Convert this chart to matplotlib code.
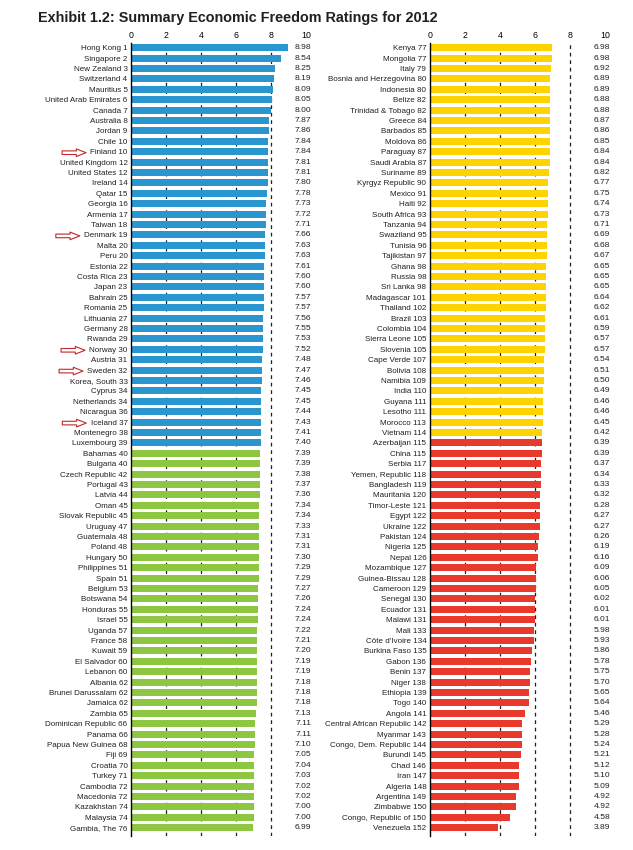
import matplotlib
matplotlib.use('Agg')
import matplotlib.pyplot as plt
from matplotlib.patches import FancyArrowPatch

plt.rcParams['font.family'] = ['Liberation Sans', 'DejaVu Sans']

# left column (ranks 1-76)
names_left = ['Hong Kong', 'Singapore', 'New Zealand', 'Switzerland', 'Mauritius', 'United Arab Emirates',
              'Canada', 'Australia', 'Jordan', 'Chile', 'Finland', 'United Kingdom', 'United States',
              'Ireland', 'Qatar', 'Georgia', 'Armenia', 'Taiwan', 'Denmark', 'Malta', 'Peru', 'Estonia',
              'Costa Rica', 'Japan', 'Bahrain', 'Romania', 'Lithuania', 'Germany', 'Rwanda', 'Norway',
              'Austria', 'Sweden', 'Korea, South', 'Cyprus', 'Netherlands', 'Nicaragua', 'Iceland',
              'Montenegro', 'Luxembourg', 'Bahamas', 'Bulgaria', 'Czech Republic', 'Portugal', 'Latvia',
              'Oman', 'Slovak Republic', 'Uruguay', 'Guatemala', 'Poland', 'Hungary', 'Philippines',
              'Spain', 'Belgium', 'Botswana', 'Honduras', 'Israel', 'Uganda', 'France', 'Kuwait',
              'El Salvador', 'Lebanon', 'Albania', 'Brunei Darussalam', 'Jamaica', 'Zambia',
              'Dominican Republic', 'Panama', 'Papua New Guinea', 'Fiji', 'Croatia', 'Turkey',
              'Cambodia', 'Macedonia', 'Kazakhstan', 'Malaysia', 'Gambia, The']
ranks_left = [1, 2, 3, 4, 5, 6, 7, 8, 9, 10, 10, 12, 12, 14, 15, 16, 17, 18, 19, 20, 20, 22, 23, 23,
              25, 25, 27, 28, 29, 30, 31, 32, 33, 34, 34, 36, 37, 38, 39, 40, 40, 42, 43, 44, 45, 45,
              47, 48, 48, 50, 51, 51, 53, 54, 55, 55, 57, 58, 59, 60, 60, 62, 62, 62, 65, 66, 66, 68,
              69, 70, 71, 72, 72, 74, 74, 76]
scores_left = [8.98, 8.54, 8.25, 8.19, 8.09, 8.05, 8.00, 7.87, 7.86, 7.84, 7.84, 7.81, 7.81, 7.80,
               7.78, 7.73, 7.72, 7.71, 7.66, 7.63, 7.63, 7.61, 7.60, 7.60, 7.57, 7.57, 7.56, 7.55,
               7.53, 7.52, 7.48, 7.47, 7.46, 7.45, 7.45, 7.44, 7.43, 7.41, 7.40, 7.39, 7.39, 7.38,
               7.37, 7.36, 7.34, 7.34, 7.33, 7.31, 7.31, 7.30, 7.29, 7.29, 7.27, 7.26, 7.24, 7.24,
               7.22, 7.21, 7.20, 7.19, 7.19, 7.18, 7.18, 7.18, 7.13, 7.11, 7.11, 7.10, 7.05, 7.04,
               7.03, 7.02, 7.02, 7.00, 7.00, 6.99]

# right column (ranks 77-152)
names_right = ['Kenya', 'Mongolia', 'Italy', 'Bosnia and Herzegovina', 'Indonesia', 'Belize',
               'Trinidad & Tobago', 'Greece', 'Barbados', 'Moldova', 'Paraguay', 'Saudi Arabia',
               'Suriname', 'Kyrgyz Republic', 'Mexico', 'Haiti', 'South Africa', 'Tanzania',
               'Swaziland', 'Tunisia', 'Tajikistan', 'Ghana', 'Russia', 'Sri Lanka', 'Madagascar',
               'Thailand', 'Brazil', 'Colombia', 'Sierra Leone', 'Slovenia', 'Cape Verde', 'Bolivia',
               'Namibia', 'India', 'Guyana', 'Lesotho', 'Morocco', 'Vietnam', 'Azerbaijan', 'China',
               'Serbia', 'Yemen, Republic', 'Bangladesh', 'Mauritania', 'Timor-Leste', 'Egypt',
               'Ukraine', 'Pakistan', 'Nigeria', 'Nepal', 'Mozambique', 'Guinea-Bissau', 'Cameroon',
               'Senegal', 'Ecuador', 'Malawi', 'Mali', "Côte d'Ivoire", 'Burkina Faso', 'Gabon',
               'Benin', 'Niger', 'Ethiopia', 'Togo', 'Angola', 'Central African Republic', 'Myanmar',
               'Congo, Dem. Republic', 'Burundi', 'Chad', 'Iran', 'Algeria', 'Argentina', 'Zimbabwe',
               'Congo, Republic of', 'Venezuela']
ranks_right = [77, 77, 79, 80, 80, 82, 82, 84, 85, 86, 87, 87, 89, 90, 91, 92, 93, 94, 95, 96, 97,
               98, 98, 98, 101, 102, 103, 104, 105, 105, 107, 108, 109, 110, 111, 111, 113, 114, 115,
               115, 117, 118, 119, 120, 121, 122, 122, 124, 125, 126, 127, 128, 129, 130, 131, 131,
               133, 134, 135, 136, 137, 138, 139, 140, 141, 142, 143, 144, 145, 146, 147, 148, 149,
               150, 150, 152]
scores_right = [6.98, 6.98, 6.92, 6.89, 6.89, 6.88, 6.88, 6.87, 6.86, 6.85, 6.84, 6.84, 6.82, 6.77,
                6.75, 6.74, 6.73, 6.71, 6.69, 6.68, 6.67, 6.65, 6.65, 6.65, 6.64, 6.62, 6.61, 6.59,
                6.57, 6.57, 6.54, 6.51, 6.50, 6.49, 6.46, 6.46, 6.45, 6.42, 6.39, 6.39, 6.37, 6.34,
                6.33, 6.32, 6.28, 6.27, 6.27, 6.26, 6.19, 6.16, 6.09, 6.06, 6.05, 6.02, 6.01, 6.01,
                5.98, 5.93, 5.86, 5.78, 5.75, 5.70, 5.65, 5.64, 5.46, 5.29, 5.28, 5.24, 5.21, 5.12,
                5.10, 5.09, 4.92, 4.92, 4.58, 3.89]

# quartile groups: how many rows of each column fall in the first colour
quartile_split = [39, 38]
quartile_colors = [('#2A96CF', '#8DC641'), ('#FFD300', '#E8392C')]
arrowed = ['Finland', 'Denmark', 'Norway', 'Sweden', 'Iceland']

fig = plt.figure(figsize=(6.33, 8.5), dpi=100)
fig.text(0.06, 0.979, 'Exhibit 1.2: Summary Economic Freedom Ratings for 2012',
         fontsize=10.4, fontweight='bold', va='center', ha='left', color='#231F20')

panels = [(names_left, ranks_left, scores_left, 0.207),
          (names_right, ranks_right, scores_right, 0.679)]
axes = []
for k, (names, ranks, scores, x0) in enumerate(panels):
    ax = fig.add_axes([x0, 0.0165, 0.2765, 0.9335])
    n = len(names)
    y = list(range(n))
    cols = [quartile_colors[k][0] if i < quartile_split[k] else quartile_colors[k][1] for i in y]
    for xv in [2, 4, 6, 8]:
        ax.axvline(xv, color='#231F20', lw=0.9, ls=(0, (3, 3)), zorder=1)
    ax.barh(y, scores, height=0.68, color=cols, zorder=2)
    for i, s in enumerate(scores):
        ax.text(10.3, i, f'{s:.2f}', ha='right', va='center', fontsize=6.1, color='#231F20',
                clip_on=False)
    ax.set_xlim(0, 10)
    ax.set_ylim(n - 0.2, -0.5)
    ax.set_yticks(y)
    ax.set_yticklabels([f'{nm} {r}' for nm, r in zip(names, ranks)], fontsize=5.8, color='#231F20')
    ax.set_xticks([0, 2, 4, 6, 8, 10])
    ax.xaxis.tick_top()
    ax.tick_params(axis='both', length=0, pad=2.5)
    ax.tick_params(axis='x', labelsize=6.3, pad=1.5)
    for sp in ['top', 'right', 'bottom']:
        ax.spines[sp].set_visible(False)
    ax.spines['left'].set_linewidth(1.0)
    ax.spines['left'].set_zorder(3)
    axes.append(ax)

# hollow red arrows pointing at the Nordic countries
fig.canvas.draw()
renderer = fig.canvas.get_renderer()
inv = fig.transFigure.inverted()
for lab in axes[0].get_yticklabels():
    if lab.get_text().rsplit(' ', 1)[0] in arrowed:
        bb = lab.get_window_extent(renderer)
        yc = (bb.y0 + bb.y1) / 2
        p1 = inv.transform((bb.x0 - 31, yc))
        p2 = inv.transform((bb.x0 - 1.5, yc))
        arr = FancyArrowPatch(p1, p2, transform=fig.transFigure,
                              arrowstyle='simple,head_length=7,head_width=5.5,tail_width=2.6',
                              facecolor='white', edgecolor='#C1272D', lw=0.8)
        fig.add_artist(arr)

fig.savefig('out.png', dpi=100)
